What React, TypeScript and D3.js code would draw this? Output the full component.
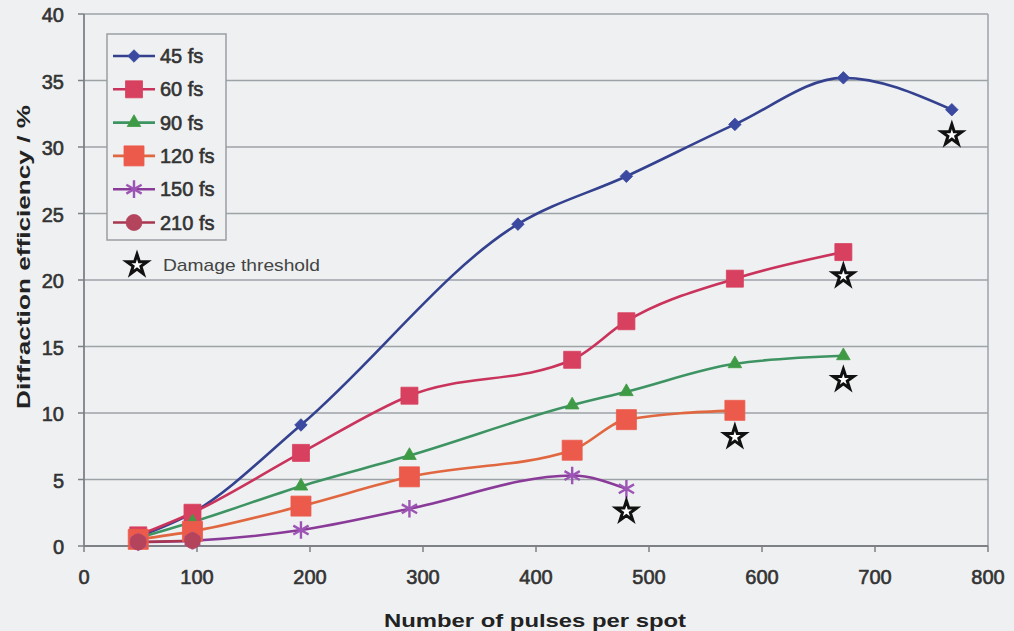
import React from "react";
import * as d3 from "d3";

// pulses per spot (x) and diffraction efficiency in % (y)
const pulses45 = [48, 96, 192, 384, 480, 576, 672, 768];
const eff45 = [0.7, 2.5, 9.1, 24.2, 27.8, 31.7, 35.2, 32.8];
const pulses60 = [48, 96, 192, 288, 432, 480, 576, 672];
const eff60 = [0.8, 2.5, 7.0, 11.3, 14.0, 16.9, 20.1, 22.1];
const pulses90 = [48, 96, 192, 288, 432, 480, 576, 672];
const eff90 = [0.6, 1.8, 4.5, 6.8, 10.6, 11.6, 13.7, 14.3];
const pulses120 = [48, 96, 192, 288, 432, 480, 576];
const eff120 = [0.5, 1.1, 3.0, 5.2, 7.2, 9.5, 10.2];
const pulses150 = [48, 96, 192, 288, 432, 480];
const eff150 = [0.3, 0.4, 1.2, 2.8, 5.3, 4.3];
const pulses210 = [48, 96];
const eff210 = [0.3, 0.4];

const damagePulses = [480, 576, 672, 672, 768];
const damageEff = [2.6, 8.2, 12.5, 20.3, 30.9];

const xTicks = [0, 100, 200, 300, 400, 500, 600, 700, 800];
const yTicks = [0, 5, 10, 15, 20, 25, 30, 35, 40];

type Marker = "diamond" | "square" | "triangle" | "bigsquare" | "asterisk" | "circle";

const series = [
  { name: "45 fs", x: pulses45, y: eff45, line: "#34418f", fill: "#3b4aa0", marker: "diamond" as Marker },
  { name: "60 fs", x: pulses60, y: eff60, line: "#c9335c", fill: "#d8405f", marker: "square" as Marker },
  { name: "90 fs", x: pulses90, y: eff90, line: "#3d9462", fill: "#3f9a45", marker: "triangle" as Marker },
  { name: "120 fs", x: pulses120, y: eff120, line: "#e0673f", fill: "#ec5a4c", marker: "bigsquare" as Marker },
  { name: "150 fs", x: pulses150, y: eff150, line: "#8a3a98", fill: "#9c55b5", marker: "asterisk" as Marker },
  { name: "210 fs", x: pulses210, y: eff210, line: "#a8364f", fill: "#b4435c", marker: "circle" as Marker },
];

const W = 1014;
const H = 631;
const BG = "#eef0f1";

const xScale = d3.scaleLinear().domain([0, 800]).range([84, 988]);
const yScale = d3.scaleLinear().domain([0, 40]).range([546, 14]);

function markerPath(m: Marker) {
  if (m === "diamond") return d3.symbol(d3.symbolSquare, 78)();
  if (m === "square") return d3.symbol(d3.symbolSquare, 289)();
  if (m === "bigsquare") return d3.symbol(d3.symbolSquare, 400)();
  if (m === "triangle") return d3.symbol(d3.symbolTriangle, 80)();
  if (m === "asterisk") return d3.symbol(d3.symbolAsterisk, 220)();
  return d3.symbol(d3.symbolCircle, 200)();
}

function MarkerShape({ m, cx, cy, fill }: { m: Marker; cx: number; cy: number; fill: string }) {
  const d = markerPath(m) || "";
  if (m === "asterisk") {
    return <path d={d} transform={`translate(${cx},${cy})`} fill="none" stroke={fill} strokeWidth={2.4} />;
  }
  const rot = m === "diamond" ? " rotate(45)" : "";
  return <path d={d} transform={`translate(${cx},${cy})${rot}`} fill={fill} stroke={fill} strokeWidth={0.8} />;
}

const starPath = d3.symbol(d3.symbolStar, 130)() || "";

function Star({ cx, cy }: { cx: number; cy: number }) {
  return (
    <path d={starPath} transform={`translate(${cx},${cy})`} fill="#ffffff" stroke="#111" strokeWidth={3} strokeLinejoin="miter" />
  );
}

export default function App() {
  const line = d3
    .line<[number, number]>()
    .x((d) => xScale(d[0]))
    .y((d) => yScale(d[1]))
    .curve(d3.curveMonotoneX);

  // the scanned labels look heavier than plain regular, so give them a thin outline
  const tickFont = {
    fontFamily: "Liberation Sans, Arial, sans-serif",
    fontSize: 20,
    fill: "#333",
    stroke: "#333",
    strokeWidth: 0.6,
  };

  return (
    <svg width={W} height={H} style={{ position: "absolute", left: 0, top: 0 }}>
      <rect x={0} y={0} width={W} height={H} fill={BG} />

      {/* gridlines */}
      {yTicks.map((t) => (
        <line key={t} x1={xScale(0)} x2={xScale(800)} y1={yScale(t)} y2={yScale(t)} stroke="#9ea3a8" strokeWidth={1.5} />
      ))}
      <line x1={xScale(800)} x2={xScale(800)} y1={yScale(40)} y2={yScale(0)} stroke="#9ea3a8" strokeWidth={1.5} />

      {/* axes */}
      <line x1={xScale(0)} x2={xScale(0)} y1={yScale(40)} y2={yScale(0)} stroke="#7d8186" strokeWidth={1.8} />
      <line x1={xScale(0)} x2={xScale(800)} y1={yScale(0)} y2={yScale(0)} stroke="#7d8186" strokeWidth={1.8} />
      {yTicks.map((t) => (
        <g key={t}>
          <line x1={xScale(0) - 6} x2={xScale(0)} y1={yScale(t)} y2={yScale(t)} stroke="#7d8186" strokeWidth={1.5} />
          <text x={64} y={yScale(t) + 8} textAnchor="end" {...tickFont}>
            {t}
          </text>
        </g>
      ))}
      {xTicks.map((t) => (
        <g key={t}>
          <line x1={xScale(t)} x2={xScale(t)} y1={yScale(0)} y2={yScale(0) + 6} stroke="#7d8186" strokeWidth={1.5} />
          <text x={xScale(t)} y={584} textAnchor="middle" {...tickFont}>
            {t}
          </text>
        </g>
      ))}

      {/* axis titles */}
      <text
        x={535}
        y={627}
        textAnchor="middle"
        fontFamily="Liberation Sans, Arial, sans-serif"
        fontWeight="bold"
        fontSize={19}
        fill="#222"
        textLength={302}
        lengthAdjust="spacingAndGlyphs"
      >
        Number of pulses per spot
      </text>
      <text
        transform={`translate(30,257) rotate(-90)`}
        textAnchor="middle"
        fontFamily="Liberation Sans, Arial, sans-serif"
        fontWeight="bold"
        fontSize={19}
        fill="#222"
        textLength={304}
        lengthAdjust="spacingAndGlyphs"
      >
        Diffraction efficiency / %
      </text>

      {/* series lines */}
      {series.map((s) => (
        <path
          key={s.name}
          d={line(s.x.map((x, i) => [x, s.y[i]] as [number, number])) || ""}
          fill="none"
          stroke={s.line}
          strokeWidth={2.6}
        />
      ))}

      {/* markers */}
      {series.map((s) =>
        s.x.map((x, i) => (
          <MarkerShape key={s.name + i} m={s.marker} cx={xScale(x)} cy={yScale(s.y[i])} fill={s.fill} />
        ))
      )}

      {/* damage threshold stars */}
      {damagePulses.map((p, i) => (
        <Star key={i} cx={xScale(p)} cy={yScale(damageEff[i])} />
      ))}

      {/* legend */}
      <rect x={107} y={34} width={119} height={206} fill={BG} stroke="#9a9ea3" strokeWidth={1.5} />
      {series.map((s, i) => {
        const ly = 56 + i * 33.3;
        return (
          <g key={s.name}>
            <line x1={113} x2={155} y1={ly} y2={ly} stroke={s.line} strokeWidth={2.6} />
            <MarkerShape m={s.marker} cx={134} cy={ly} fill={s.fill} />
            <text x={160} y={ly + 7} {...tickFont}>
              {s.name}
            </text>
          </g>
        );
      })}
      <Star cx={137} cy={265} />
      <text
        x={163}
        y={271}
        fontFamily="Liberation Sans, Arial, sans-serif"
        fontSize={17}
        fill="#444"
        textLength={157}
        lengthAdjust="spacingAndGlyphs"
      >
        Damage threshold
      </text>
    </svg>
  );
}
